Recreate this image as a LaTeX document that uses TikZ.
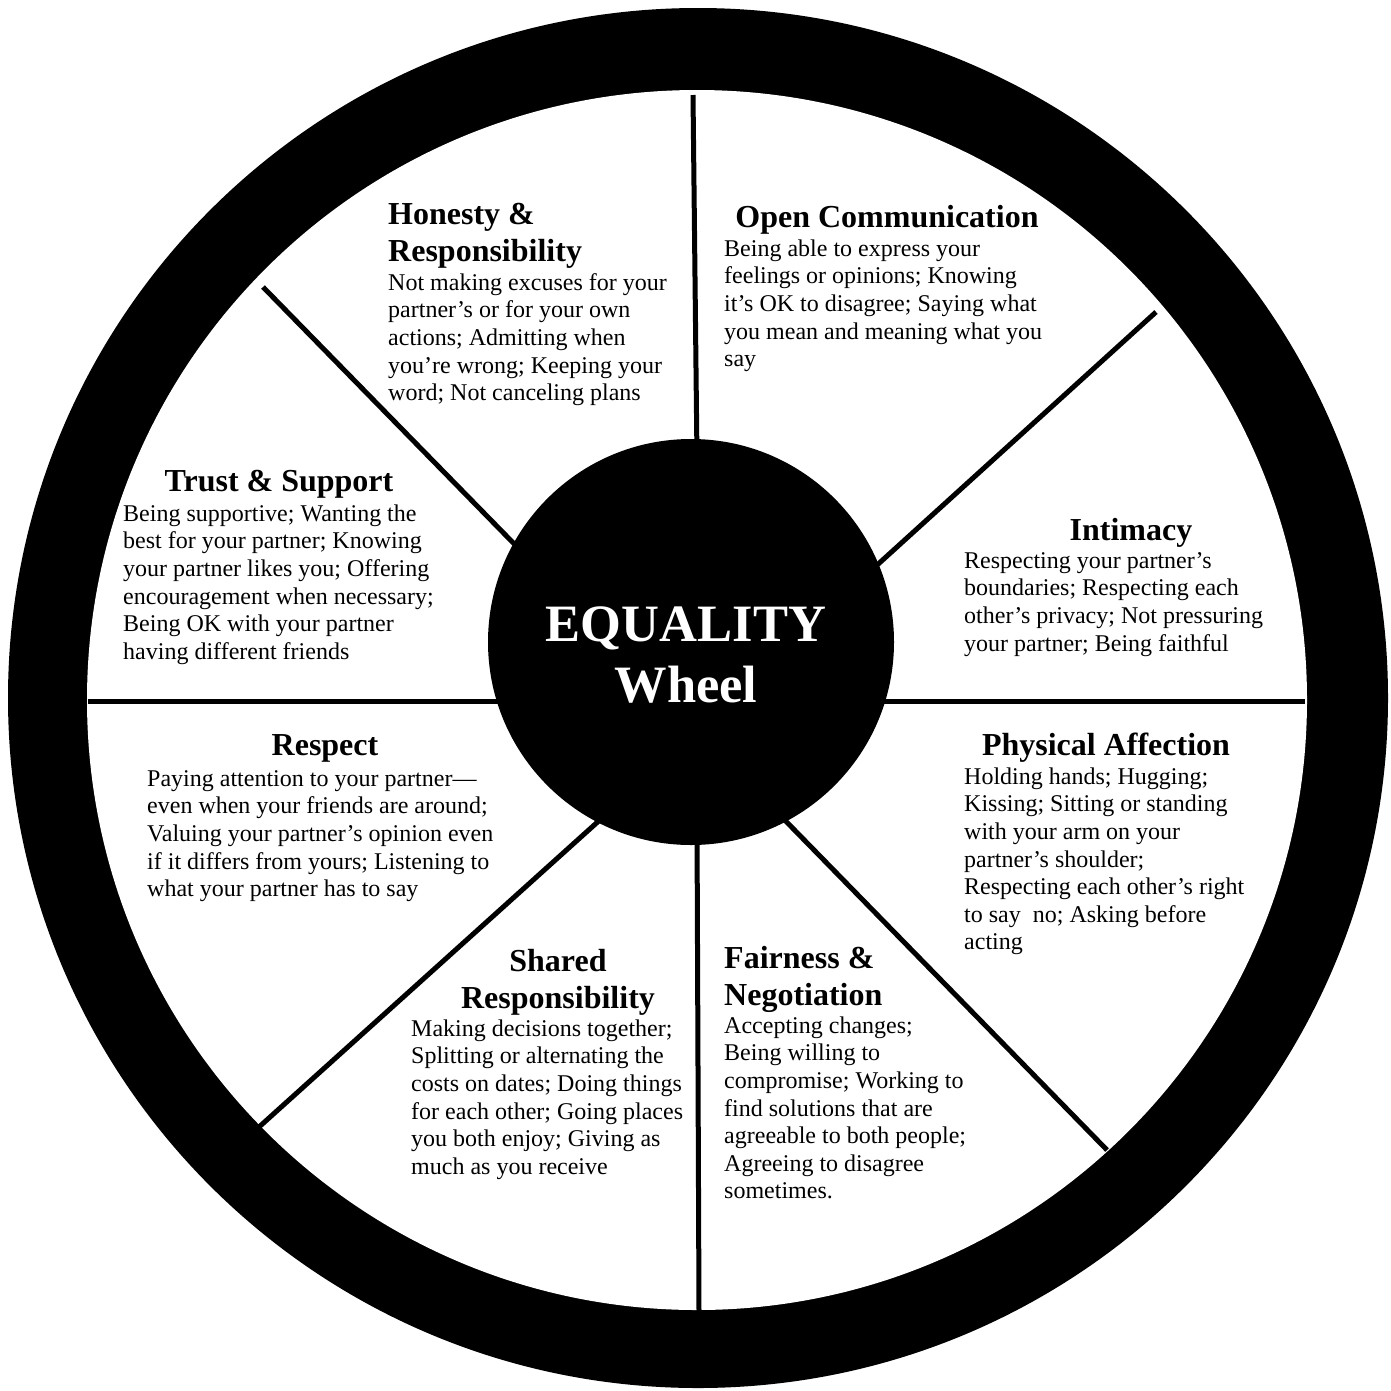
\documentclass[tikz,border=0pt]{standalone}
\usepackage{fontspec}
\setmainfont{Liberation Serif}
\newcommand\bodyfont{\fontsize{24}{27.6}\selectfont}
\newcommand\headfont{\fontsize{32}{37}\selectfont\bfseries}
\newcommand\titlefont{\fontsize{52.5}{61}\selectfont\bfseries}
\newcommand\bst{\rule{0pt}{20pt}}
\newcommand\hst{\rule{0pt}{27pt}}
\newcommand\tst{\rule{0pt}{45pt}}
\begin{document}
\begin{tikzpicture}[x=1pt,y=-1pt,
  bodytext/.style={anchor=north west, inner sep=0pt, align=left, font=\bodyfont},
  headL/.style={anchor=north west, inner sep=0pt, align=left, font=\headfont},
  headC/.style={anchor=north, inner sep=0pt, align=center, font=\headfont},
  spoke/.style={line width=5pt, black}]
\useasboundingbox (0,0) rectangle (1391,1390);
\fill[white] (0,0) rectangle (1391,1390);
% rim
\node[circle, fill=black, minimum size=1380pt, inner sep=0pt] (rim) at (698,698) {};
\node[circle, fill=white, minimum size=1220pt, inner sep=0pt] (field) at (697,700) {};
% spoke coordinates
\coordinate (tA) at (693,95);   \coordinate (tB) at (697,460);
\coordinate (bA) at (699,1312); \coordinate (bB) at (697,825);
\coordinate (lA) at (88,701);   \coordinate (lB) at (510,701);
\coordinate (rA) at (1305,701); \coordinate (rB) at (875,701);
\coordinate (ulA) at (263,287); \coordinate (ulB) at (527,557);
\coordinate (urA) at (1156,312); \coordinate (urB) at (865,576);
\coordinate (lrA) at (1107,1150); \coordinate (lrB) at (773,808);
\coordinate (llA) at (259,1127); \coordinate (llB) at (612,809);
\draw[spoke] (tA) -- (tB);
\draw[spoke] (bA) -- (bB);
\draw[spoke] (lA) -- (lB);
\draw[spoke] (rA) -- (rB);
\draw[spoke] (ulA) -- (ulB);
\draw[spoke] (urA) -- (urB);
\draw[spoke] (lrA) -- (lrB);
\draw[spoke] (llA) -- (llB);
% hub
\node[circle, fill=black, minimum size=406pt, inner sep=0pt] (hub) at (691,642) {};
\node[anchor=north, inner sep=0pt, align=center, font=\titlefont, text=white] (title) at (686,596) {\tst EQUALITY\\Wheel};
% Honesty & Responsibility
\node[headL] (honH) at (388,197.5) {\hst Honesty \&\\Responsibility};
\node[bodytext] (honB) at (388,270) {\bst Not making excuses for your\\partner’s or for your own\\actions; Admitting when\\you’re wrong; Keeping your\\word; Not canceling plans};
% Open Communication
\node[anchor=base, inner sep=0pt, font=\headfont] (ocH) at (887,227) {Open Communication};
\node[bodytext] (ocB) at (724,236) {\bst Being able to express your\\feelings or opinions; Knowing\\it’s OK to disagree; Saying what\\you mean and meaning what you\\say};
% Trust & Support
\node[anchor=base, inner sep=0pt, font=\headfont] (tsH) at (279,491) {Trust \& Support};
\node[bodytext] (tsB) at (123,501) {\bst Being supportive; Wanting the\\best for your partner; Knowing\\your partner likes you; Offering\\encouragement when necessary;\\Being OK with your partner\\having different friends};
% Intimacy
\node[anchor=base, inner sep=0pt, font=\headfont] (inH) at (1131,540) {Intimacy};
\node[bodytext] (inB) at (964,548) {\bst Respecting your partner’s\\boundaries; Respecting each\\other’s privacy; Not pressuring\\your partner; Being faithful};
% Respect
\node[anchor=base, inner sep=0pt, font=\headfont] (reH) at (325,755) {Respect};
\node[bodytext] (reB) at (147,766) {\bst Paying attention to your partner—\\even when your friends are around;\\Valuing your partner’s opinion even\\if it differs from yours; Listening to\\what your partner has to say};
% Physical Affection
\node[anchor=base, inner sep=0pt, font=\headfont] (paH) at (1106,755) {Physical Affection};
\node[bodytext] (paB) at (964,764) {\bst Holding hands; Hugging;\\Kissing; Sitting or standing\\with your arm on your\\partner’s shoulder;\\Respecting each other’s right\\to say\ \ no; Asking before\\acting};
% Shared Responsibility
\node[headC] (srH) at (558,944) {\hst Shared\\Responsibility};
\node[bodytext] (srB) at (411,1016) {\bst Making decisions together;\\Splitting or alternating the\\costs on dates; Doing things\\for each other; Going places\\you both enjoy; Giving as\\much as you receive};
% Fairness & Negotiation
\node[headL] (fnH) at (724,941) {\hst Fairness \&\\Negotiation};
\node[bodytext] (fnB) at (724,1013) {\bst Accepting changes;\\Being willing to\\compromise; Working to\\find solutions that are\\agreeable to both people;\\Agreeing to disagree\\sometimes.};
\end{tikzpicture}
\end{document}
